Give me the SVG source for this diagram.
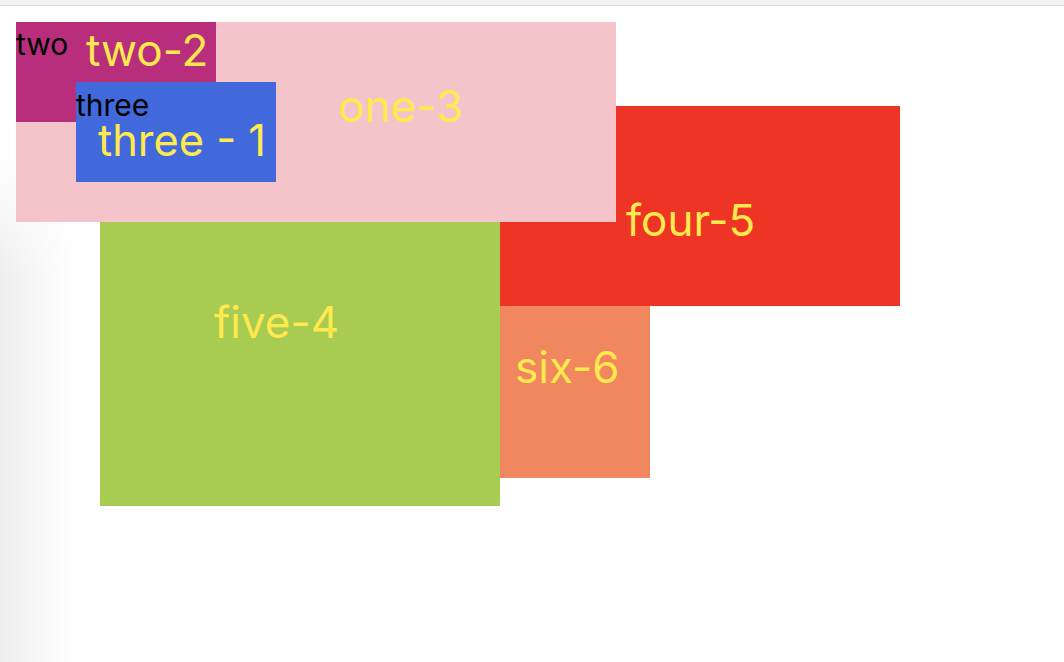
<svg xmlns="http://www.w3.org/2000/svg" width="1064" height="662" viewBox="0 0 1064 662">
<style>
.lbl{font-family:Inter,"Liberation Sans",sans-serif;font-size:44px;fill:#FFE94D}
.tag{font-family:Inter,"Liberation Sans",sans-serif;font-size:30px;fill:#000}
</style>
<defs>
<linearGradient id="side" x1="0" y1="0" x2="1" y2="0">
<stop offset="0" stop-color="#eeeeee"/>
<stop offset="1" stop-color="#ffffff"/>
</linearGradient>
<linearGradient id="fadeV" x1="0" y1="0" x2="0" y2="1">
<stop offset="0" stop-color="#000"/>
<stop offset="0.25" stop-color="#fff"/>
<stop offset="1" stop-color="#fff"/>
</linearGradient>
<mask id="m"><rect x="0" y="150" width="75" height="512" fill="url(#fadeV)"/></mask>
</defs>
<rect width="1064" height="662" fill="#fff"/>
<rect x="0" y="150" width="75" height="512" fill="url(#side)" mask="url(#m)"/>
<rect x="0" y="0" width="1064" height="5" fill="#f3f3f3"/>
<rect x="0" y="5" width="1064" height="1" fill="#d9d9d9"/>
<g id="four"><rect x="500" y="106" width="400" height="200" fill="#EE3424"/><text class="lbl" x="626" y="236">four-5</text></g>
<g id="five"><rect x="100" y="222" width="400" height="284" fill="#A8CB52"/><text class="lbl" x="214" y="338">five-4</text></g>
<g id="six"><rect x="500" y="306" width="150" height="172" fill="#F0875F"/><text class="lbl" x="515" y="383">six-6</text></g>
<g id="one"><rect x="16" y="22" width="600" height="200" fill="#F5C4CB"/><text class="lbl" x="338" y="122">one-3</text></g>
<g id="two"><rect x="16" y="22" width="200" height="100" fill="#B82E7D"/><text class="tag" x="16" y="55">two</text><text class="lbl" x="86" y="66">two-2</text></g>
<g id="three"><rect x="76" y="82" width="200" height="100" fill="#4169DB"/><text class="tag" x="76" y="116">three</text><text class="lbl" x="98" y="156" textLength="168" lengthAdjust="spacingAndGlyphs">three - 1</text></g>
<g id="connectors"/>
</svg>
